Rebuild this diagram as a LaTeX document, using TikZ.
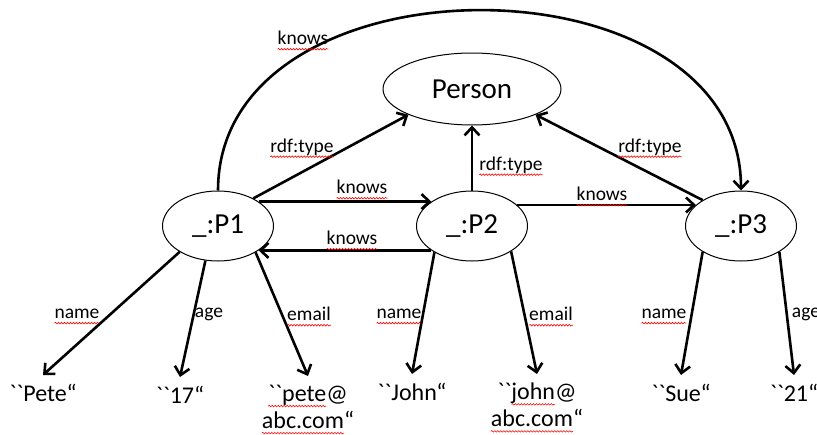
\documentclass[tikz,border=0pt]{standalone}
\usepackage{fontspec}
\usetikzlibrary{shapes.geometric,arrows.meta,decorations.pathmorphing}
\newfontfamily\calib{Carlito}
\newsavebox\spellbox
\newcommand\spell[1]{\sbox\spellbox{#1}\rlap{\tikz[overlay,x=1pt,y=1pt]\draw[red,line width=0.6pt,decorate,decoration={snake,amplitude=0.8pt,segment length=3pt}] (0pt,-4.5pt) -- (\wd\spellbox,-4.5pt);}\usebox\spellbox}
\begin{document}
\begin{tikzpicture}[x=1pt,y=-1pt,font=\calib]
\tikzstyle{every node}+=[inner sep=0pt]
\tikzstyle{res}=[draw,ellipse,line width=1pt,minimum width=111pt,minimum height=70pt,font=\calib\fontsize{29}{34}\selectfont]
\tikzstyle{lit}=[inner ysep=9pt,anchor=north,align=center,font=\calib\fontsize{24}{27}\selectfont]
\tikzstyle{lbl}=[font=\calib\fontsize{19.5}{23}\selectfont]
\tikzstyle{rel}=[line width=2.6pt,-{Straight Barb[length=8pt,width=15pt]}]
\useasboundingbox (0,0) rectangle (817,434);
\node [res,minimum width=178pt,minimum height=72pt] (person) at (472,89) {Person};
\node [res] (p1) at (218,226) {\_:P1};
\node [res] (p2) at (472,226) {\_:P2};
\node [res] (p3) at (741,226) {\_:P3};
\node [lit] (pete) at (43,375) {``Pete“};
\node [lit] (age17) at (180,377) {``17“};
\node [lit] (petemail) at (308,376) {\spell{``pete}@\\\spell{abc.com}“};
\node [lit] (john) at (412,374) {``John“};
\node [lit] (johnmail) at (537,374) {``\spell{john}@\\\spell{abc.com}“};
\node [lit] (sue) at (681,375) {``Sue“};
\node [lit] (age21) at (794,375) {``21“};
\draw [rel] (p1.north) .. controls +(0,-240) and +(0,-240) .. (p3.north);
\draw [rel] (p1.38) -- (person.202);
\draw [rel] (p2.north) -- (person.south);
\draw [rel] (p3.146) -- (person.338);
\draw [rel] (p1.31) -- (p2.149);
\draw [rel] (p2.211) -- (p1.329);
\draw [rel] (p2.25) -- (p3.155);
\draw [rel] (p1.214) -- (pete.north);
\draw [rel] (p1.250) -- (age17.north);
\draw [rel] (p1.325) -- (petemail.north);
\draw [rel] (p2.215) -- (john.north);
\draw [rel] (p2.327) -- (johnmail.north);
\draw [rel] (p3.214) -- (sue.north);
\draw [rel] (p3.326) -- (age21.north);
\node [lbl] (k13) at (303,38) {\spell{knows}};
\node [lbl] (t1) at (302,147) {\spell{rdf:type}};
\node [lbl] (t2) at (511,165) {\spell{rdf:type}};
\node [lbl] (t3) at (650,147) {\spell{rdf:type}};
\node [lbl] (k12) at (362,187) {\spell{knows}};
\node [lbl] (k21) at (352,238) {\spell{knows}};
\node [lbl] (k23) at (602,194) {\spell{knows}};
\node [lbl] (n1) at (77,314) {\spell{name}};
\node [lbl] (a1) at (209,314) {age};
\node [lbl] (e1) at (309,314) {\spell{email}};
\node [lbl] (n2) at (399,314) {\spell{name}};
\node [lbl] (e2) at (551,314) {\spell{email}};
\node [lbl] (n3) at (664,314) {\spell{name}};
\node [lbl] (a3) at (806,314) {age};
\end{tikzpicture}
\end{document}
